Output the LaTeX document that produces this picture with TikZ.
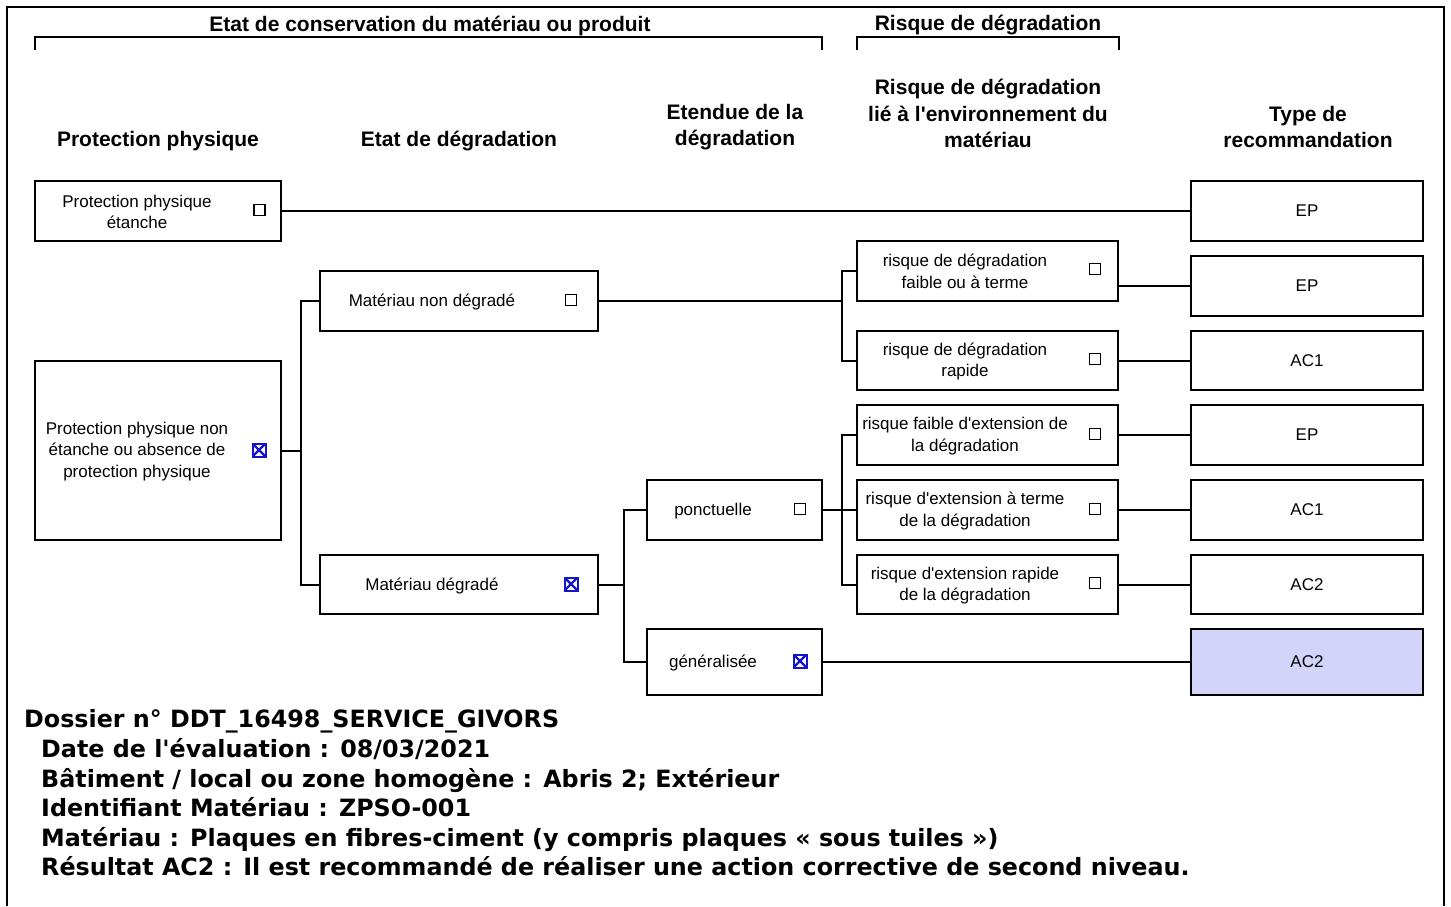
\documentclass[tikz,border=0pt]{standalone}
\usepackage{fontspec}
\newfontfamily\diafont{Liberation Sans}
\newfontfamily\infofont{DejaVu Sans}
\definecolor{tickblue}{RGB}{20,20,205}
\definecolor{acfill}{RGB}{212,212,250}
\tikzset{
  colhead/.style={font=\diafont\bfseries\fontsize{21}{26.5}\selectfont, align=center, inner sep=0pt},
  boxtxt/.style={font=\diafont\fontsize{17}{21.5}\selectfont, align=center, inner sep=0pt},
  choice/.style 2 args={draw, line width=2pt, minimum width=#1pt, minimum height=#2pt,
    inner sep=0pt, font=\diafont\fontsize{17}{21.5}\selectfont},
  cbox/.style={draw, line width=1.3pt, minimum size=11pt, inner sep=0pt},
  cboxx/.style={draw=tickblue, line width=2pt, minimum size=13pt, inner sep=0pt,
    path picture={\draw[tickblue, line width=2.2pt]
      (path picture bounding box.south west) -- (path picture bounding box.north east)
      (path picture bounding box.north west) -- (path picture bounding box.south east);}},
  link/.style={line width=2pt},
  info/.style={font=\infofont\bfseries\fontsize{23.8}{28}\selectfont, anchor=base west, inner sep=0pt}
}
\begin{document}
\begin{tikzpicture}[x=1pt, y=-1pt]
  \useasboundingbox (0,0) rectangle (1451,906);
  % frame and brackets
  \draw[line width=2pt] (7,906) -- (7,7) -- (1444,7) -- (1444,906);
  \draw[line width=2pt] (35,50) -- (35,37) -- (822,37) -- (822,50);
  \draw[line width=2pt] (857,50) -- (857,37) -- (1119,37) -- (1119,50);
  \node[colhead] (hcons) at (430,25.5) {Etat de conservation du matériau ou produit};
  \node[colhead] (hrisk) at (988,25.5) {Risque de dégradation};
  % column heads
  \node[colhead] (hpp) at (158,141) {Protection physique};
  \node[colhead] (hetat) at (459,141) {Etat de dégradation};
  \node[colhead] (hext) at (735,127) {Etendue de la\\dégradation};
  \node[colhead] (henv) at (988,113.5) {Risque de dégradation\\lié à l'environnement du\\matériau};
  \node[colhead] (htype) at (1308,127) {Type de\\recommandation};

  % protection physique
  \node[choice={246}{60}] (ppE) at (158,211) {};
  \node[boxtxt] (ppEt) at (137,212) {Protection physique\\étanche};
  \node[cbox] (ppEc) at (259.5,210) {};
  \node[choice={246}{179}] (ppN) at (158,450.5) {};
  \node[boxtxt] (ppNt) at (137,451.5) {Protection physique non\\étanche ou absence de\\protection physique};
  \node[cboxx] (ppNc) at (259,450) {};

  % etat de degradation
  \node[choice={278}{60}] (mnd) at (459,301) {};
  \node[boxtxt] (mndt) at (432,302) {Matériau non dégradé};
  \node[cbox] (mndc) at (571,300) {};
  \node[choice={278}{59}] (md) at (459,584.5) {};
  \node[boxtxt] (mdt) at (432,585.5) {Matériau dégradé};
  \node[cboxx] (mdc) at (571,584) {};

  % etendue
  \node[choice={175}{60}] (ponc) at (734.5,510) {};
  \node[boxtxt] (ponct) at (713,511) {ponctuelle};
  \node[cbox] (poncc) at (800,509) {};
  \node[choice={175}{66}] (gen) at (734.5,662) {};
  \node[boxtxt] (gent) at (713,663) {généralisée};
  \node[cboxx] (genc) at (800,661) {};

  % risque
  \node[choice={261}{60}] (r1) at (987.5,271) {};
  \node[boxtxt] (r1t) at (965,271.5) {risque de dégradation\\faible ou à terme};
  \node[cbox] (r1c) at (1095,269) {};
  \node[choice={261}{59}] (r2) at (987.5,360.5) {};
  \node[boxtxt] (r2t) at (965,361.5) {risque de dégradation\\rapide};
  \node[cbox] (r2c) at (1095,359) {};
  \node[choice={261}{60}] (r3) at (987.5,435) {};
  \node[boxtxt] (r3t) at (965,436) {risque faible d'extension de\\la dégradation};
  \node[cbox] (r3c) at (1095,434) {};
  \node[choice={261}{60}] (r4) at (987.5,510) {};
  \node[boxtxt] (r4t) at (965,511) {risque d'extension à terme\\de la dégradation};
  \node[cbox] (r4c) at (1095,509) {};
  \node[choice={261}{59}] (r5) at (987.5,584.5) {};
  \node[boxtxt] (r5t) at (965,585.5) {risque d'extension rapide\\de la dégradation};
  \node[cbox] (r5c) at (1095,583) {};

  % recommandations
  \node[choice={232}{60}] (t1) at (1307,211) {EP};
  \node[choice={232}{60}] (t2) at (1307,286) {EP};
  \node[choice={232}{59}] (t3) at (1307,360.5) {AC1};
  \node[choice={232}{60}] (t4) at (1307,435) {EP};
  \node[choice={232}{60}] (t5) at (1307,510) {AC1};
  \node[choice={232}{59}] (t6) at (1307,584.5) {AC2};
  \node[choice={232}{66}, fill=acfill] (t7) at (1307,662) {AC2};

  \draw[link] (ppE.east) -- (t1.west);
  \draw[link] (ppN.east) -- ++(19,0) |- (mnd.west);
  \draw[link] (ppN.east) -- ++(19,0) |- (md.west);
  \draw[link] (mnd.east) -- ++(243,0) |- (r1.west);
  \draw[link] (mnd.east) -- ++(243,0) |- (r2.west);
  \draw[link] (md.east) -- ++(25,0) |- (ponc.west);
  \draw[link] (md.east) -- ++(25,0) |- (gen.west);
  \draw[link] (ponc.east) -- ++(19,0) |- (r3.west);
  \draw[link] (ponc.east) -- ++(19,0) |- (r4.west);
  \draw[link] (ponc.east) -- ++(19,0) |- (r5.west);
  \draw[link] (gen.east) -- (t7.west);
  \draw[link] (t2.west -| r1.east) -- (t2.west);
  \draw[link] (r2.east) -- (t3.west);
  \draw[link] (r3.east) -- (t4.west);
  \draw[link] (r4.east) -- (t5.west);
  \draw[link] (r5.east) -- (t6.west);

  % dossier
  \node[info] (dos) at (24,727.5) {Dossier n° DDT\_16498\_SERVICE\_GIVORS};
  \node[info] (date) at (41,757.5) {Date de l'évaluation : 08/03/2021};
  \node[info] (bat) at (41,787) {Bâtiment / local ou zone homogène : Abris 2; Extérieur};
  \node[info] (ident) at (41,816.5) {Identifiant Matériau : ZPSO-001};
  \node[info] (mat) at (41,846) {Matériau : Plaques en fibres-ciment (y compris plaques « sous tuiles »)};
  \node[info] (res) at (41,875.5) {Résultat AC2 : Il est recommandé de réaliser une action corrective de second niveau.};
\end{tikzpicture}
\end{document}
